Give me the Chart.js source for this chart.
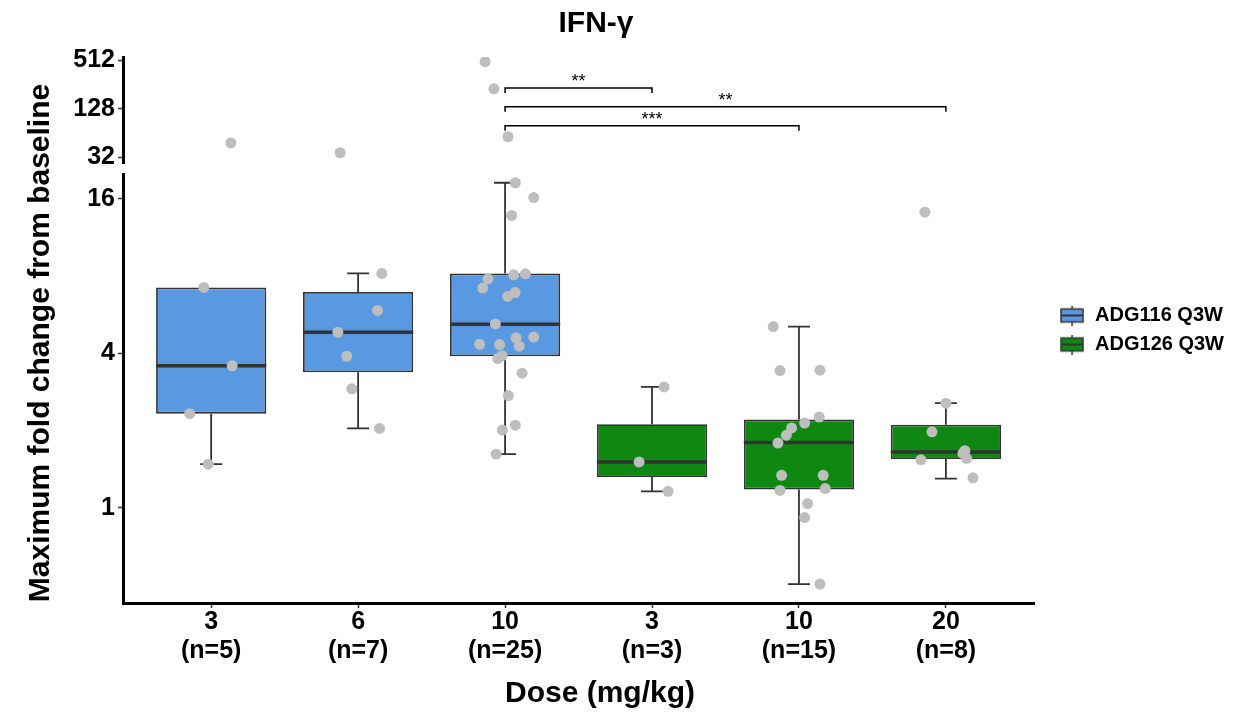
<!doctype html>
<html lang="en">
  <head>
    <meta charset="utf-8">
    <title>IFN-γ maximum fold change</title>
    <style>
      html, body { margin: 0; padding: 0; background: #fff; }
      #wrap { width: 1234px; height: 714px; }
    </style>
  </head>
  <body>
    <div id="wrap"><canvas id="chart"></canvas></div>
    <script src="https://cdn.jsdelivr.net/npm/chart.js@4.4.0/dist/chart.umd.min.js"></script>
    <script>
      // groups along the x axis
      const doses = ['3', '6', '10', '3', '10', '20'];
      const counts = ['(n=5)', '(n=7)', '(n=25)', '(n=3)', '(n=15)', '(n=8)'];
      const drugs = ['ADG116 Q3W', 'ADG126 Q3W'];
      const groupDrug = [0, 0, 0, 1, 1, 1];

      // box plot summary (fold change)
      const whiskerLow = [1.48, 2.04, 1.62, 1.16, 0.505, 1.30];
      const q1 = [2.33, 3.38, 3.90, 1.32, 1.18, 1.55];
      const median = [3.58, 4.84, 5.20, 1.51, 1.80, 1.65];
      const q3 = [7.23, 6.94, 8.20, 2.12, 2.21, 2.11];
      const whiskerHigh = [7.23, 8.20, 18.5, 2.96, 5.09, 2.56];

      // individual patients, with their horizontal jitter (in group units)
      const pointValues = [
        [7.23, 3.58, 2.33, 1.48, 47.9],
        [8.20, 5.88, 4.84, 3.90, 2.91, 2.04, 36.2],
        [18.5, 16.2, 13.8, 8.10, 8.17, 7.81, 7.19, 6.91, 6.67, 5.21, 4.60, 4.63, 4.34, 4.33, 4.27,
         3.92, 3.82, 3.35, 2.74, 2.10, 2.01, 1.62, 494, 227, 57.3],
        [2.96, 1.51, 1.16],
        [5.09, 3.43, 3.44, 2.26, 2.14, 2.05, 1.92, 1.79, 1.34, 1.34, 1.17, 1.19, 1.04, 0.917, 0.505],
        [2.56, 1.98, 1.67, 1.56, 1.54, 1.31, 14.2, 1.63]
      ];
      const pointJitter = [
        [-0.05, 0.143, -0.146, -0.02, 0.134],
        [0.161, 0.132, -0.138, -0.077, -0.043, 0.146, -0.122],
        [0.07, 0.195, 0.045, 0.059, 0.138, -0.116, -0.152, 0.068, 0.018, -0.066, 0.075, 0.195, -0.173,
         -0.037, 0.097, -0.02, -0.05, 0.116, 0.022, 0.07, -0.018, -0.061, -0.136, -0.076, 0.02],
        [0.082, -0.088, 0.109],
        [-0.175, -0.129, 0.143, 0.138, 0.039, -0.05, -0.086, -0.143, -0.118, 0.165, -0.129, 0.179,
         0.059, 0.039, 0.143],
        [0, -0.095, 0.129, 0.141, -0.17, 0.184, -0.143, 0.116]
      ];

      // significance brackets
      const sigFrom = [2, 2, 2];
      const sigTo = [3, 5, 4];
      const sigHeight = [232, 135.6, 78.6];
      const sigLabel = ['**', '**', '***'];

      // broken y axis
      const lowTicks = [1, 4, 16];
      const highTicks = [32, 128, 512];
      const lowRange = [0.426, 20];
      const highRange = [26.4, 565];

      const boxColors = ['#5899E2', '#0F8812'];
      const FONT = '"Liberation Sans", Arial, Helvetica, sans-serif';
      Chart.defaults.font.family = FONT;
      Chart.defaults.color = '#000';

      const boxGlyph = (fill) => {
        const c = document.createElement('canvas');
        c.width = 24; c.height = 20;
        const g = c.getContext('2d');
        g.strokeStyle = '#333'; g.lineWidth = 1.5;
        g.beginPath(); g.moveTo(12, 0); g.lineTo(12, 20); g.stroke();
        g.fillStyle = fill;
        g.fillRect(1, 3.5, 22, 13);
        g.strokeRect(1, 3.5, 22, 13);
        g.lineWidth = 2;
        g.beginPath(); g.moveTo(1, 10); g.lineTo(23, 10); g.stroke();
        return c;
      };
      const glyphs = boxColors.map(boxGlyph);

      const boxSets = drugs.map((name, d) => ({
        type: 'bar',
        label: name,
        yAxisID: 'yLow',
        order: 1,
        grouped: false,
        data: doses.map((_, i) => i).filter(i => groupDrug[i] === d)
          .map(i => ({x: i, y: [q1[i], q3[i]]})),
        backgroundColor: boxColors[d],
        borderColor: '#333',
        borderWidth: 1.8,
        borderSkipped: false,
        barPercentage: 0.75,
        categoryPercentage: 1
      }));

      const lowPts = [], highPts = [];
      pointValues.forEach((vals, i) => vals.forEach((v, k) => {
        (v > lowRange[1] ? highPts : lowPts).push({x: i + pointJitter[i][k], y: v});
      }));
      const pointSet = (data, axis) => ({
        type: 'scatter',
        label: 'patients',
        yAxisID: axis,
        order: 0,
        data: data,
        pointRadius: 5.5,
        pointBackgroundColor: '#BEBEBE',
        pointBorderWidth: 0
      });

      // whiskers + medians on top of each box
      const boxExtras = {
        id: 'boxExtras',
        afterDatasetDraw(chart, args) {
          if (args.meta.type !== 'bar') return;
          const {ctx} = chart;
          const yLow = chart.scales.yLow;
          const xs = chart.scales.x;
          ctx.save();
          ctx.strokeStyle = '#333';
          args.meta.data.forEach((bar, j) => {
            const i = args.meta._parsed[j].x;
            const cap = (xs.getPixelForValue(i + 0.075) - xs.getPixelForValue(i));
            const yWl = yLow.getPixelForValue(whiskerLow[i]);
            const yWh = yLow.getPixelForValue(whiskerHigh[i]);
            const yQ1 = yLow.getPixelForValue(q1[i]);
            const yQ3 = yLow.getPixelForValue(q3[i]);
            ctx.lineWidth = 1.8;
            ctx.beginPath();
            if (whiskerHigh[i] > q3[i]) {
              ctx.moveTo(bar.x, yQ3); ctx.lineTo(bar.x, yWh);
              ctx.moveTo(bar.x - cap, yWh); ctx.lineTo(bar.x + cap, yWh);
            }
            ctx.moveTo(bar.x, yQ1); ctx.lineTo(bar.x, yWl);
            ctx.moveTo(bar.x - cap, yWl); ctx.lineTo(bar.x + cap, yWl);
            ctx.stroke();
            const ym = yLow.getPixelForValue(median[i]);
            ctx.lineWidth = 3.5;
            ctx.beginPath();
            ctx.moveTo(bar.x - bar.width / 2, ym); ctx.lineTo(bar.x + bar.width / 2, ym);
            ctx.stroke();
          });
          ctx.restore();
        },
        afterDraw(chart) {
          const {ctx} = chart;
          const xs = chart.scales.x;
          const yHigh = chart.scales.yHigh;
          ctx.save();
          // brackets
          ctx.strokeStyle = '#000';
          ctx.fillStyle = '#000';
          ctx.lineWidth = 1.5;
          ctx.font = '18px ' + FONT;
          ctx.textAlign = 'center';
          ctx.textBaseline = 'alphabetic';
          sigLabel.forEach((lab, k) => {
            const xa = xs.getPixelForValue(sigFrom[k]);
            const xb = xs.getPixelForValue(sigTo[k]);
            const yb = yHigh.getPixelForValue(sigHeight[k]);
            ctx.beginPath();
            ctx.moveTo(xa, yb + 5); ctx.lineTo(xa, yb); ctx.lineTo(xb, yb); ctx.lineTo(xb, yb + 5);
            ctx.stroke();
            ctx.fillText(lab, (xa + xb) / 2, yb - 1);
          });
          // titles
          ctx.font = 'bold 30px ' + FONT;
          ctx.fillText('IFN-γ', 596, 32);
          ctx.fillText('Dose (mg/kg)', 600, 702);
          ctx.translate(48.5, 343);
          ctx.rotate(-Math.PI / 2);
          ctx.fillText('Maximum fold change from baseline', 0, 0);
          ctx.restore();
        }
      };

      const yCommon = (ticks) => ({
        type: 'logarithmic',
        position: 'left',
        stack: 'yBroken',
        bounds: 'data',
        afterBuildTicks: s => { s.ticks = ticks.map(v => ({value: v})); },
        afterFit: s => { s.width = 60; },
        ticks: {callback: v => String(v), font: {size: 25, weight: 'bold'}, color: '#000', padding: 3, autoSkip: false},
        grid: {drawOnChartArea: false, drawTicks: true, tickLength: 5, tickColor: '#333', tickWidth: 1.5},
        border: {display: true, color: '#000', width: 3}
      });

      const ctx = document.getElementById('chart').getContext('2d');
      const myChart = new Chart(ctx, {
        type: 'bar',
        data: {
          datasets: [...boxSets, pointSet(lowPts, 'yLow'), pointSet(highPts, 'yHigh')]
        },
        plugins: [boxExtras],
        options: {
          responsive: true,
          maintainAspectRatio: false,
          devicePixelRatio: 1,
          animation: false,
          layout: {padding: {left: 63, top: 57, right: 0, bottom: 48}},
          plugins: {
            title: {display: false},
            tooltip: {enabled: false},
            legend: {
              position: 'right',
              fullSize: false,
              maxWidth: 300,
              labels: {
                usePointStyle: true,
                pointStyleWidth: 26,
                boxHeight: 20,
                padding: 9,
                color: '#000',
                font: {size: 20, weight: 'bold'},
                generateLabels: () => drugs.map((d, i) => ({
                  text: d, pointStyle: glyphs[i], fillStyle: boxColors[i],
                  strokeStyle: '#333', lineWidth: 0, hidden: false, datasetIndex: i
                }))
              }
            }
          },
          scales: {
            x: {
              type: 'linear',
              position: 'bottom',
              min: -0.6,
              max: 5.6,
              bounds: 'data',
              offset: false,
              afterBuildTicks: s => { s.ticks = doses.map((_, i) => ({value: i})); },
              ticks: {
                callback: v => [doses[v], counts[v]],
                font: {size: 25, weight: 'bold', lineHeight: 1.16},
                color: '#000',
                padding: 0,
                maxRotation: 0,
                autoSkip: false
              },
              grid: {offset: false, drawOnChartArea: false, drawTicks: true, tickLength: 5, tickColor: '#333', tickWidth: 1.5},
              border: {display: true, color: '#000', width: 3}
            },
            yLow: Object.assign(yCommon(lowTicks), {min: lowRange[0], max: lowRange[1], stackWeight: 428.7}),
            yGap: {
              type: 'linear',
              position: 'left',
              stack: 'yBroken',
              stackWeight: 10.3,
              afterFit: s => { s.width = 60; },
              ticks: {display: false},
              grid: {display: false},
              border: {display: false}
            },
            yHigh: Object.assign(yCommon(highTicks), {min: highRange[0], max: highRange[1], stackWeight: 106.7}),
            yPad: {
              type: 'linear',
              position: 'right',
              afterFit: s => { s.width = 16; },
              ticks: {display: false},
              grid: {display: false},
              border: {display: false}
            }
          }
        }
      });
    </script>
  </body>
</html>
